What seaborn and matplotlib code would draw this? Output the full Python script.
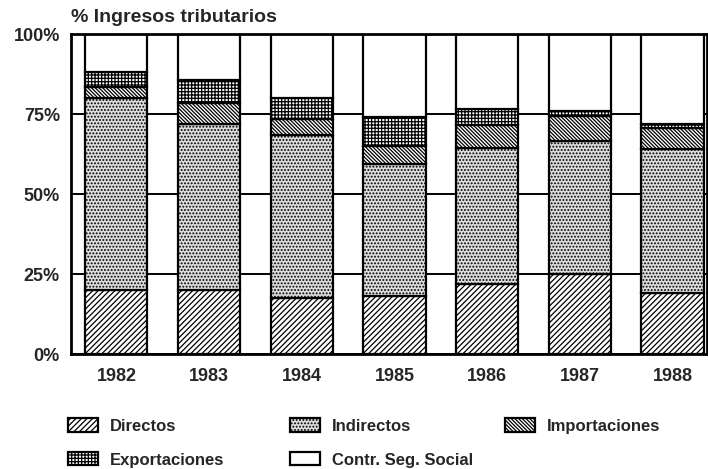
#%% tax revenue composition, stacked bars
import numpy as np
import pandas as pd
import matplotlib.pyplot as plt
import matplotlib.patches as mpatches
import seaborn as sns

years = ['1982', '1983', '1984', '1985', '1986', '1987', '1988']
directos = [20, 20, 17.5, 18, 22, 25, 19]
indirectos = [60, 52, 51, 41.5, 42.5, 41.5, 45]
importaciones = [3.5, 6.5, 5, 5.5, 7, 8, 6.5]
exportaciones = [4.5, 7, 6.5, 9, 5, 1.5, 1.5]
seg_social = [12, 14.5, 20, 26, 23.5, 24, 28]

labels = ['Directos', 'Indirectos', 'Importaciones', 'Exportaciones', 'Contr. Seg. Social']
hatches = ['//////', '.....', '\\' * 9, '+++++', '']
fills = ['white', '#dcdcdc', 'white', 'white', 'white']

sns.set_theme(style='white')
plt.rcParams['font.family'] = ['Liberation Sans', 'DejaVu Sans']
plt.rcParams['font.weight'] = 'bold'
plt.rcParams['hatch.linewidth'] = 0.9
plt.rcParams['hatch.color'] = 'black'

df = pd.DataFrame({'year': years, 'Directos': directos, 'Indirectos': indirectos,
                   'Importaciones': importaciones, 'Exportaciones': exportaciones,
                   'Contr. Seg. Social': seg_social})

fig = plt.figure(figsize=(7.08, 4.69), dpi=100)
ax = fig.add_axes([0.1003, 0.2452, 0.898, 0.6823])

bottom = np.zeros(len(years))
handles = []
for lab, h, fc in zip(labels, hatches, fills):
    sns.barplot(data=df, x='year', y=lab, bottom=bottom, width=0.67, color=fc,
                saturation=1, edgecolor='black', linewidth=1.6, hatch=h,
                errorbar=None, ax=ax, zorder=2)
    bottom = bottom + df[lab].to_numpy()
    handles.append(mpatches.Patch(facecolor=fc, edgecolor='black', hatch=h,
                                  linewidth=1.6, label=lab))

ax.set_xlim(-0.49, 6.37)
ax.set_ylim(0, 100)
ax.set_yticks([0, 25, 50, 75, 100])
ax.set_yticklabels(['0%', '25%', '50%', '75%', '100%'])
ax.set_xlabel('')
ax.set_ylabel('')
ax.yaxis.grid(True, color='black', linewidth=1.4, zorder=0)
ax.set_axisbelow(True)
ax.tick_params(axis='y', length=0, pad=8, labelsize=13)
ax.tick_params(axis='x', length=0, pad=10, labelsize=13)
for s in ax.spines.values():
    s.set_color('black')
    s.set_linewidth(2)

fig.text(71 / 708, 1 - 18 / 469, '% Ingresos tributarios', fontsize=14,
         fontweight='bold', va='center', ha='left')

# legend, three columns placed by hand
cols = [[handles[0], handles[3]], [handles[1], handles[4]], [handles[2]]]
xs = [68 / 708, 290 / 708, 505 / 708]
for col, x in zip(cols, xs):
    fig.legend(handles=col, loc='upper left', bbox_to_anchor=(x, 0.108),
               frameon=False, fontsize=12, borderpad=0, borderaxespad=0,
               handlelength=1.8, handleheight=0.85, handletextpad=0.72,
               labelspacing=1.1)

fig.savefig('out.png', dpi=100)
